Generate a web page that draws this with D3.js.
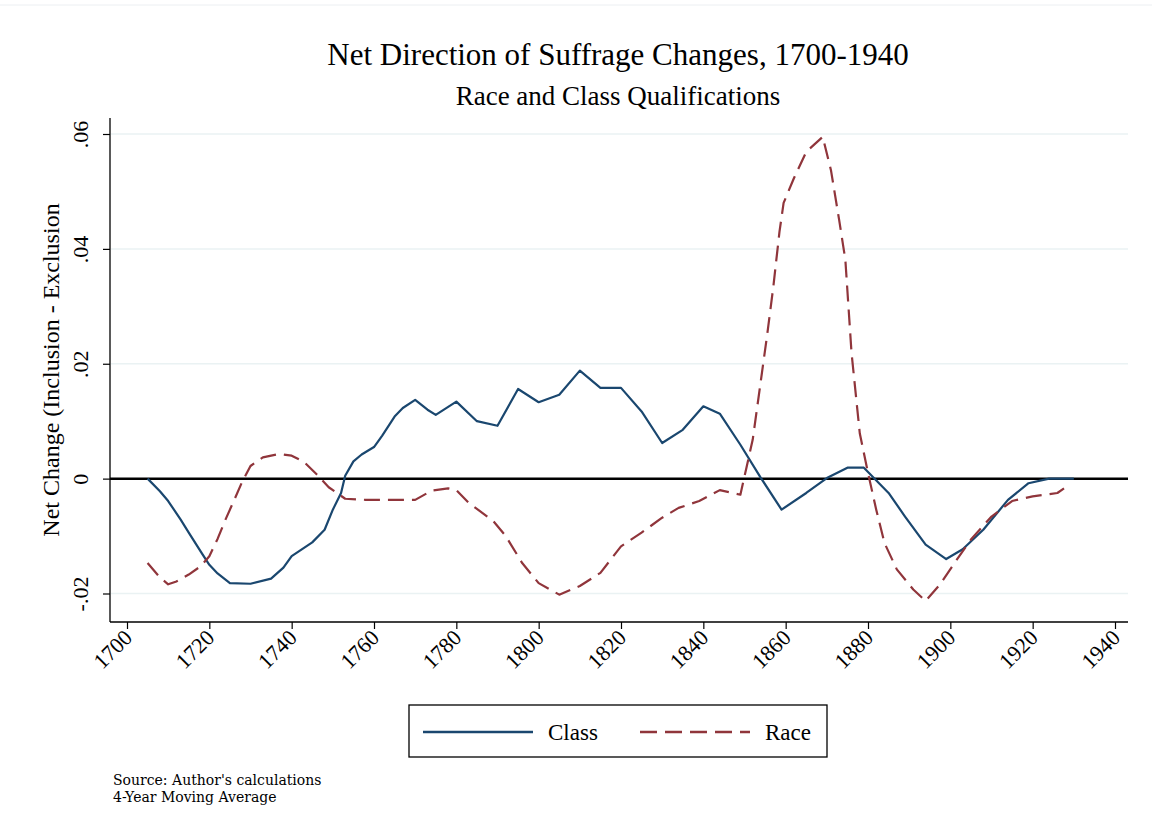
<!DOCTYPE html>
<html>
<head>
<meta charset="utf-8">
<script src="https://cdn.jsdelivr.net/npm/d3@7/dist/d3.min.js"></script>
<style>
  body { margin: 0; background: #fff; }
  text { font-family: "Liberation Serif", "Times New Roman", serif; fill: #000; }
</style>
</head>
<body>
<div id="chart"></div>
<script>
// ---------- DATA ----------
// 4-year moving average
const CLASS_YEARS = [1705, 1708, 1710, 1713, 1715, 1718, 1720, 1722, 1725, 1730, 1735, 1738, 1740, 1745, 1748, 1750, 1752, 1753, 1755, 1757, 1760, 1762, 1765, 1767, 1770, 1773, 1775, 1780, 1785, 1790, 1795, 1800, 1805, 1810, 1815, 1820, 1825, 1830, 1835, 1840, 1844, 1849, 1854, 1859, 1865, 1870, 1875, 1879, 1885, 1889, 1894, 1899, 1903, 1908, 1914, 1919, 1924, 1930];
const CLASS_VALUES = [0, -0.0022, -0.0039, -0.0071, -0.0094, -0.0128, -0.015, -0.0165, -0.0182, -0.0183, -0.0174, -0.0155, -0.0135, -0.0111, -0.0089, -0.0054, -0.0025, 0.0005, 0.003, 0.0042, 0.0055, 0.0075, 0.0108, 0.0123, 0.0137, 0.012, 0.0111, 0.0134, 0.01, 0.0092, 0.0156, 0.0133, 0.0146, 0.0188, 0.0158, 0.0158, 0.0117, 0.0062, 0.0085, 0.0126, 0.0113, 0.0059, 0.0001, -0.0054, -0.0025, 0.0001, 0.0019, 0.0019, -0.0025, -0.0066, -0.0115, -0.014, -0.0123, -0.0089, -0.0037, -0.0008, 0, 0];

const RACE_YEARS = [1705, 1708, 1710, 1712, 1715, 1718, 1720, 1722, 1724, 1726, 1728, 1730, 1733, 1737, 1740, 1743, 1746, 1749, 1753, 1758, 1770, 1774, 1778, 1780, 1783, 1789, 1792, 1796, 1800, 1805, 1810, 1815, 1820, 1825, 1830, 1834, 1839, 1844, 1849, 1850.5, 1852, 1854, 1855.5, 1857, 1858.5, 1859.5, 1862, 1865, 1869, 1871, 1873, 1874.5, 1876, 1878, 1880, 1882, 1884, 1887, 1891, 1894, 1897.5, 1901, 1905, 1910, 1915, 1920, 1926, 1929];
const RACE_VALUES = [-0.0147, -0.0172, -0.0184, -0.0179, -0.0167, -0.0152, -0.0135, -0.0105, -0.007, -0.0038, -0.0005, 0.0022, 0.0037, 0.0043, 0.004, 0.0029, 0.0008, -0.0015, -0.0035, -0.0037, -0.0037, -0.0021, -0.0017, -0.002, -0.0042, -0.0074, -0.01, -0.0147, -0.0182, -0.0202, -0.0187, -0.0164, -0.0118, -0.0094, -0.0068, -0.0051, -0.0039, -0.002, -0.0028, 0.002, 0.0068, 0.0172, 0.025, 0.0334, 0.043, 0.048, 0.0523, 0.0569, 0.0595, 0.0537, 0.045, 0.0381, 0.0219, 0.0079, 0.001, -0.0054, -0.0112, -0.0158, -0.0193, -0.0213, -0.0184, -0.0147, -0.0106, -0.0066, -0.0039, -0.0031, -0.0025, -0.001];

const X_TICKS = [1700, 1720, 1740, 1760, 1780, 1800, 1820, 1840, 1860, 1880, 1900, 1920, 1940];
const Y_TICKS = [-0.02, 0, 0.02, 0.04, 0.06];
const Y_TICK_LABELS = ["-.02", "0", ".02", ".04", ".06"];

const SERIES = [
  { name: "Class", years: CLASS_YEARS, values: CLASS_VALUES, color: "#1a476f", dash: null },
  { name: "Race", years: RACE_YEARS, values: RACE_VALUES, color: "#90353b", dash: "16,8" }
];

// ---------- SCAFFOLD ----------
const width = 1152, height = 837;
const plot = { left: 110, right: 1128, top: 118, bottom: 622 };
const SERIF = "'Liberation Serif', 'Times New Roman', serif";

const svg = d3.select("#chart").append("svg")
  .attr("width", width)
  .attr("height", height);

// faint page border at the top of the screenshot
svg.append("line")
  .attr("x1", 0).attr("x2", width)
  .attr("y1", 5).attr("y2", 5)
  .attr("stroke", "#eceff2");

const x = d3.scaleLinear().domain([1700, 1940]).range([127, 1115]);
const y = d3.scaleLinear().domain([-0.02, 0.06]).range([593.5, 134]);

// titles
svg.append("text")
  .attr("x", 618).attr("y", 65)
  .attr("text-anchor", "middle")
  .style("font-size", "31px")
  .text("Net Direction of Suffrage Changes, 1700-1940");

svg.append("text")
  .attr("x", 618).attr("y", 105)
  .attr("text-anchor", "middle")
  .style("font-size", "27px")
  .text("Race and Class Qualifications");

// ---------- GRID ----------
svg.append("g")
  .selectAll("line")
  .data(Y_TICKS.filter(d => d !== 0))
  .join("line")
  .attr("x1", plot.left + 1).attr("x2", plot.right)
  .attr("y1", d => y(d)).attr("y2", d => y(d))
  .attr("stroke", "#eaf2f3")
  .attr("stroke-width", 1.5);

// ---------- AXES ----------
const yAxis = d3.axisLeft(y)
  .tickValues(Y_TICKS)
  .tickSize(7)
  .tickPadding(0)
  .tickFormat((d, i) => Y_TICK_LABELS[i]);

const gy = svg.append("g")
  .attr("transform", `translate(${plot.left},0)`)
  .call(yAxis);
gy.select(".domain").remove();
gy.selectAll(".tick line").attr("stroke", "#000").attr("stroke-width", 1.2);
gy.selectAll(".tick text")
  .attr("x", null).attr("dy", null)
  .attr("text-anchor", "middle")
  .attr("transform", "translate(-22,0) rotate(-90)")
  .style("font-size", "22px")
  .style("font-family", SERIF);

const xAxis = d3.axisBottom(x)
  .tickValues(X_TICKS)
  .tickSize(7)
  .tickFormat(d3.format("d"));

const gx = svg.append("g")
  .attr("transform", `translate(0,${plot.bottom})`)
  .call(xAxis);
gx.select(".domain").remove();
gx.selectAll(".tick line").attr("stroke", "#000").attr("stroke-width", 1.2);
gx.selectAll(".tick text")
  .attr("y", null).attr("dy", null)
  .attr("text-anchor", "end")
  .attr("transform", "translate(6,17) rotate(-45)")
  .style("font-size", "22px")
  .style("font-family", SERIF);

// axis lines
svg.append("line")
  .attr("x1", plot.left).attr("x2", plot.left)
  .attr("y1", plot.top).attr("y2", plot.bottom)
  .attr("stroke", "#000").attr("stroke-width", 1.3);
svg.append("line")
  .attr("x1", plot.left).attr("x2", plot.right)
  .attr("y1", plot.bottom).attr("y2", plot.bottom)
  .attr("stroke", "#000").attr("stroke-width", 1.3);

// y title
svg.append("text")
  .attr("transform", "translate(59,370) rotate(-90)")
  .attr("text-anchor", "middle")
  .style("font-size", "24px")
  .text("Net Change (Inclusion - Exclusion");

// zero reference line
svg.append("line")
  .attr("x1", plot.left).attr("x2", plot.right)
  .attr("y1", y(0)).attr("y2", y(0))
  .attr("stroke", "#000").attr("stroke-width", 2.5);

// ---------- LINES ----------
const line = d3.line()
  .x(d => x(d[0]))
  .y(d => y(d[1]));

SERIES.forEach(s => {
  svg.append("path")
    .datum(d3.zip(s.years, s.values))
    .attr("fill", "none")
    .attr("stroke", s.color)
    .attr("stroke-width", 2.2)
    .attr("stroke-linejoin", "round")
    .attr("stroke-dasharray", s.dash)
    .attr("d", line);
});

// ---------- LEGEND ----------
const legend = svg.append("g");
legend.append("rect")
  .attr("x", 409).attr("y", 705)
  .attr("width", 418).attr("height", 52)
  .attr("fill", "#fff")
  .attr("stroke", "#000").attr("stroke-width", 1.3);

const legendX = [423, 640];
SERIES.forEach((s, i) => {
  legend.append("line")
    .attr("x1", legendX[i]).attr("x2", legendX[i] + 110)
    .attr("y1", 732).attr("y2", 732)
    .attr("stroke", s.color)
    .attr("stroke-width", 2.6)
    .attr("stroke-dasharray", s.dash ? "17,8" : null);
  legend.append("text")
    .attr("x", legendX[i] + 125).attr("y", 740)
    .style("font-size", "23px")
    .text(s.name);
});

// ---------- NOTES ----------
svg.append("text")
  .attr("x", 113).attr("y", 785)
  .style("font-size", "14px")
  .style("font-family", "'DejaVu Serif', serif")
  .text("Source: Author's calculations");
svg.append("text")
  .attr("x", 113).attr("y", 802)
  .style("font-size", "14px")
  .style("font-family", "'DejaVu Serif', serif")
  .text("4-Year Moving Average");
</script>
</body>
</html>
